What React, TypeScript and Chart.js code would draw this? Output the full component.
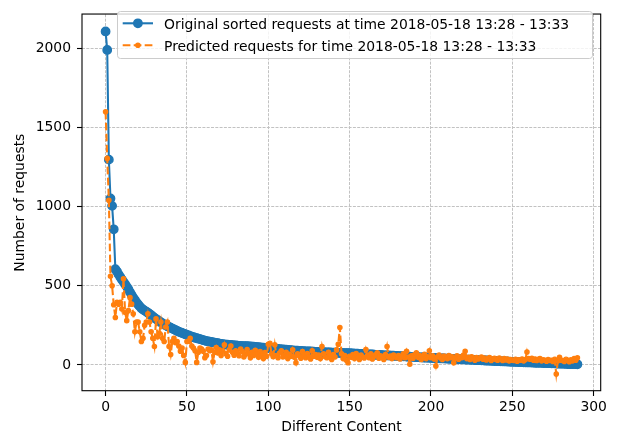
import React, { useEffect, useRef } from 'react';
import { Chart, registerables } from 'chart.js';

Chart.register(...registerables);

const FONT_FAMILY = "'DejaVu Sans', sans-serif";
const FONT_SIZE = 13.9;
const BLUE = '#1f77b4';
const ORANGE = '#ff7f0e';

const SERIES_ORIGINAL_LABEL = 'Original sorted requests at time 2018-05-18 13:28 - 13:33';
const SERIES_PREDICTED_LABEL = 'Predicted requests for time 2018-05-18 13:28 - 13:33';
const X_TITLE = 'Different Content';
const Y_TITLE = 'Number of requests';

const X_TICKS = [0, 50, 100, 150, 200, 250, 300];
const Y_TICKS = [0, 500, 1000, 1500, 2000];

const ORIGINAL = [
  2107, 1990, 1297, 1052, 1005, 857, 605, 590, 572, 556,
  540, 525, 510, 495, 478, 460, 442, 425, 410, 395,
  382, 370, 358, 350, 343, 337, 330, 322, 314, 306,
  298, 290, 283, 276, 269, 262, 256, 250, 245, 240,
  235, 230, 225, 220, 215, 210, 206, 202, 198, 194,
  190, 186, 182, 178, 175, 172, 169, 166, 163, 160,
  157, 154, 151, 149, 147, 145, 143, 141, 139, 137,
  135,
  133, 131, 130, 129, 128, 127, 126, 125, 124, 123,
  122, 121, 120, 119, 119, 118, 118, 117, 117, 116,
  115, 114, 113, 112, 111, 110, 109, 108, 108, 107,
  106, 105, 104, 103, 102, 101, 100, 99, 98, 97,
  96, 95, 94, 93, 92, 91, 90, 90, 89, 88,
  87, 87, 86, 86, 85, 85, 84, 84, 83, 83,
  82, 82, 81, 81, 80, 80, 79, 79, 78, 78,
  77, 77, 76, 76, 76, 75, 75, 75, 74, 74,
  73, 73, 72, 72, 71, 70, 70, 69, 69, 68,
  67, 67, 66, 66, 65, 64, 64, 63, 63, 62,
  61, 61, 60, 60, 59, 58, 58, 57, 57, 56,
  55, 55, 54, 54, 53, 52, 52, 51, 51, 50,
  49, 49, 48, 48, 47, 47, 46, 46, 45, 45,
  44, 44, 43, 43, 42, 42, 41, 41, 40, 40,
  39, 39, 38, 38, 37, 37, 36, 36, 35, 35,
  34, 34, 33, 33, 32, 32, 31, 31, 30, 30,
  29, 29, 28, 28, 27, 27, 26, 26, 25, 25,
  24, 24, 23, 23, 22, 22, 21, 21, 20, 20,
  20, 19, 19, 18, 18, 18, 17, 17, 16, 16,
  16, 15, 15, 14, 14, 14, 13, 13, 12, 12,
  12, 11, 11, 10, 10, 10, 9, 9, 8, 8,
  8, 7, 7, 6, 6, 6, 5, 5, 5, 4,
];

const PREDICTED = [
  1600, 1305, 1040, 560, 500, 380, 300, 395, 384, 395,
  353, 545, 333, 280, 343, 425, 384, 323, 209, 271,
  271, 209, 148, 168, 250, 271, 323, 271, 209, 168,
  117, 291, 178, 200, 271, 168, 148, 240, 271, 117,
  66, 148, 168, 140, 148, 120, 87, 107, 60, 16,
  148, 150, 168, 120, 107, 90, 16, 80, 107, 100,
  87, 45, 60, 100, 90, 95, 20, 80, 110, 75,
  95,
  60, 88, 127, 70, 55, 95, 120, 80, 62, 90,
  75, 58, 100, 85, 50, 66, 97, 72, 45, 80,
  60, 92, 70, 48, 85, 65, 40, 78, 55, 131,
  137, 70, 52, 127, 60, 45, 75, 90, 50, 62,
  80, 40, 68, 55, 95, 48, 14, 70, 58, 42,
  85, 60, 45, 72, 50, 38, 90, 55, 66, 48,
  62, 40, 117, 70, 52, 45, 80, 58, 35, 65,
  50, 95, 131, 236, 70, 40, 60, 30, 14, 55,
  48, 65, 40, 72, 58, 35, 62, 50, 44, 97,
  60, 45, 70, 38, 55, 64, 76, 42, 58, 50,
  35, 66, 117, 48, 56, 40, 62, 52, 45, 60,
  38, 55, 70, 45, 86, 50, 4, 58, 42, 65,
  76, 48, 60, 35, 55, 68, 40, 52, 90, 45,
  58, 38, -6, 50, 62, 44, 35, 56, 48, 40,
  60, 45, 52, 14, 42, 58, 36, 50, 46, 62,
  86, 40, 48, 34, 52, 44, 30, 46, 38, 42,
  50, 36, 44, 32, 40, 46, 28, 38, 42, 35,
  30, 44, 36, 28, 40, 32, 38, 26, 34, 30,
  28, 36, 24, 32, 30, 38, 26, 34, 82, 40,
  36, 42, 30, 38, 28, 35, 40, 26, 32, 30,
  24, 34, 28, 30, 22, 36, -57, 26, 49, 30,
  28, 22, 36, 30, 20, 32, 26, 40, 30, 45,
];

const toPoints = (values: number[]) => values.map((v, i) => ({ x: i, y: v }));

const framePlugin = {
  id: 'frame',
  afterDatasetsDraw(chart: any) {
    const { ctx, chartArea } = chart;
    ctx.save();
    ctx.strokeStyle = '#000';
    ctx.lineWidth = 1.1;
    ctx.strokeRect(chartArea.left, chartArea.top - 0.3, chartArea.right - chartArea.left - 0.3, chartArea.bottom - chartArea.top);
    ctx.restore();
  },
};

const legendPlugin = {
  id: 'mplLegend',
  afterDraw(chart: any) {
    const { ctx } = chart;
    const ds = chart.data.datasets;
    const x = 117.5, y = 11.5, w = 475, h = 47, r = 3;
    ctx.save();
    ctx.beginPath();
    ctx.moveTo(x + r, y);
    ctx.lineTo(x + w - r, y);
    ctx.arcTo(x + w, y, x + w, y + r, r);
    ctx.lineTo(x + w, y + h - r);
    ctx.arcTo(x + w, y + h, x + w - r, y + h, r);
    ctx.lineTo(x + r, y + h);
    ctx.arcTo(x, y + h, x, y + h - r, r);
    ctx.lineTo(x, y + r);
    ctx.arcTo(x, y, x + r, y, r);
    ctx.closePath();
    ctx.fillStyle = 'rgba(255,255,255,0.8)';
    ctx.fill();
    ctx.strokeStyle = '#cccccc';
    ctx.lineWidth = 1;
    ctx.stroke();

    const rows = [23.3, 45.3];
    ds.forEach((d: any, i: number) => {
      const cy = rows[i];
      ctx.beginPath();
      ctx.setLineDash(d.borderDash || []);
      ctx.strokeStyle = d.borderColor;
      ctx.lineWidth = d.borderWidth;
      ctx.moveTo(122.7, cy);
      ctx.lineTo(153, cy);
      ctx.stroke();
      ctx.setLineDash([]);
      ctx.beginPath();
      ctx.arc(137.9, cy, d.pointRadius, 0, Math.PI * 2);
      ctx.fillStyle = d.pointBackgroundColor;
      ctx.fill();
      ctx.lineWidth = d.pointBorderWidth;
      ctx.strokeStyle = d.pointBorderColor;
      ctx.stroke();
      ctx.fillStyle = '#000';
      ctx.font = `${FONT_SIZE}px ${FONT_FAMILY}`;
      ctx.textBaseline = 'alphabetic';
      ctx.textAlign = 'left';
      ctx.fillText(d.label, 164, cy + 5.4);
    });
    ctx.restore();
  },
};

export default function App() {
  const ref = useRef<HTMLCanvasElement>(null);

  useEffect(() => {
    document.body.style.margin = '0';
    const canvas = ref.current;
    if (!canvas) return;
    const font = { family: FONT_FAMILY, size: FONT_SIZE };
    const plain = (v: any) => String(v);
    const chart = new Chart(canvas, {
      type: 'line',
      data: {
        datasets: [
          {
            label: SERIES_ORIGINAL_LABEL,
            data: toPoints(ORIGINAL),
            borderColor: BLUE,
            backgroundColor: BLUE,
            borderWidth: 2.08,
            pointRadius: 4.2,
            pointBorderWidth: 1.4,
            pointBackgroundColor: BLUE,
            pointBorderColor: BLUE,
            fill: false,
            order: 2,
          },
          {
            label: SERIES_PREDICTED_LABEL,
            data: toPoints(PREDICTED),
            borderColor: ORANGE,
            backgroundColor: ORANGE,
            borderWidth: 2.08,
            borderDash: [7.7, 3.3],
            pointRadius: 2.1,
            pointBorderWidth: 1.4,
            pointBackgroundColor: ORANGE,
            pointBorderColor: ORANGE,
            fill: false,
            order: 1,
          },
        ] as any,
      },
      options: {
        responsive: false,
        animation: false,
        events: [],
        devicePixelRatio: 1,
        layout: { padding: { top: 5, right: 22, left: 0, bottom: 0 } },
        plugins: {
          legend: { display: false },
          tooltip: { enabled: false },
          title: { display: false },
        },
        scales: {
          x: {
            type: 'linear',
            min: -14.5,
            max: 304.5,
            afterBuildTicks: (s: any) => {
              s.ticks = X_TICKS.map((v) => ({ value: v }));
            },
            afterFit: (s: any) => {
              s.height = 48;
            },
            grid: { color: '#c2c2c2', lineWidth: 1, tickColor: '#000', tickLength: 5, tickWidth: 1.1 },
            border: { display: false, dash: [3, 1.3] },
            ticks: { color: '#000', font, padding: 3, maxRotation: 0, autoSkip: false, callback: plain },
            title: { display: true, text: X_TITLE, color: '#000', font, padding: { top: 0, bottom: 3.2 } },
          },
          y: {
            type: 'linear',
            min: -164.6,
            max: 2215,
            afterBuildTicks: (s: any) => {
              s.ticks = Y_TICKS.map((v) => ({ value: v }));
            },
            afterFit: (s: any) => {
              s.width = 82;
            },
            grid: { color: '#c2c2c2', lineWidth: 1, tickColor: '#000', tickLength: 5, tickWidth: 1.1 },
            border: { display: false, dash: [3, 1.3] },
            ticks: { color: '#000', font, padding: 6, autoSkip: false, callback: plain },
            title: { display: true, text: Y_TITLE, color: '#000', font, padding: { top: 12, bottom: 0 } },
          },
        },
      } as any,
      plugins: [framePlugin, legendPlugin],
    });
    return () => chart.destroy();
  }, []);

  return (
    <div style={{ width: 623, height: 439 }}>
      <canvas ref={ref} width={623} height={439} style={{ display: 'block' }} />
    </div>
  );
}
